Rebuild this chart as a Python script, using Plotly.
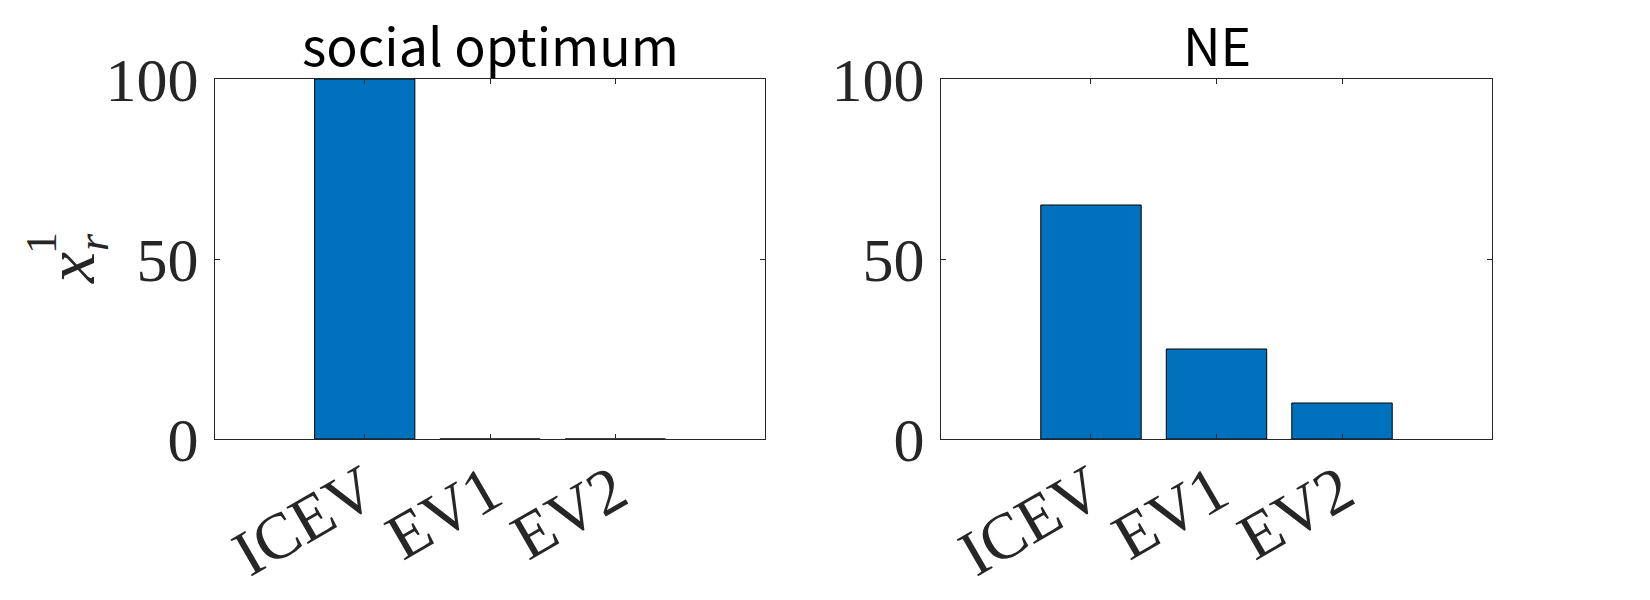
import plotly.graph_objects as go

# data
vehicles = ['ICEV', 'EV1', 'EV2']
social_opt = [100, 0, 0]
nash_eq = [65, 25, 10]
panel_titles = ['social optimum', 'NE']
y_ticks = [0, 50, 100]

bar_col = '#0072BD'
ax_col = '#262626'
serif = 'Liberation Serif'
sans = 'Noto Sans CJK JP'

# page body has an 8px margin, so the figure is a bit smaller than the window
W, H, off = 1642, 592, 8
px = lambda p: (p - off) / W
py = lambda p: 1 - (p - off) / H

fig = go.Figure()
fig.add_trace(go.Bar(x=vehicles, y=social_opt, xaxis='x', yaxis='y',
                     marker=dict(color=bar_col, line=dict(color='black', width=1))))
fig.add_trace(go.Bar(x=vehicles, y=nash_eq, xaxis='x2', yaxis='y2',
                     marker=dict(color=bar_col, line=dict(color='black', width=1))))

xax = dict(type='category', categoryorder='array', categoryarray=vehicles,
           range=[-1.195, 3.195], showline=True, linecolor=ax_col, linewidth=1,
           mirror='ticks', ticks='inside', ticklen=5, tickcolor=ax_col,
           tickangle=-30, tickfont=dict(family=serif, size=65, color=ax_col),
           ticklabelstandoff=-12, showgrid=False, zeroline=False, automargin=False)
yax = dict(range=[0, 100], tickvals=y_ticks, showline=True, linecolor=ax_col,
           linewidth=1, mirror='ticks', ticks='inside', ticklen=5, tickcolor=ax_col,
           tickfont=dict(family=serif, size=62, color=ax_col),
           ticklabelstandoff=3, showgrid=False, zeroline=False, automargin=False)

fig.update_layout(
    template='none',
    width=W, height=H,
    margin=dict(l=0, r=0, t=0, b=0),
    paper_bgcolor='white', plot_bgcolor='white',
    showlegend=False, bargap=0.2,
    xaxis=dict(xax, domain=[px(215), px(765)], anchor='y'),
    yaxis=dict(yax, domain=[py(439), py(79)], anchor='x'),
    xaxis2=dict(xax, domain=[px(941), px(1492)], anchor='y2'),
    yaxis2=dict(yax, domain=[py(439), py(79)], anchor='x2'),
)

for i, t in enumerate(panel_titles):
    sfx = '' if i == 0 else str(i + 1)
    fig.add_annotation(text=t, x=0.5, y=1, xref=f'x{sfx} domain', yref=f'y{sfx} domain',
                       xanchor='center', yanchor='bottom', yshift=-3, borderpad=0,
                       showarrow=False, font=dict(family=sans, size=52, color='black'))

# y label x_r^1, pieces stacked by hand
fig.add_annotation(text='<i>x</i>', textangle=-90, x=px(70), y=py(268),
                   xref='paper', yref='paper', xanchor='center', yanchor='middle',
                   showarrow=False, font=dict(family=serif, size=70, color=ax_col))
fig.add_annotation(text='1', textangle=-90, x=px(42), y=py(243),
                   xref='paper', yref='paper', xanchor='center', yanchor='middle',
                   showarrow=False, font=dict(family=serif, size=44, color=ax_col))
fig.add_annotation(text='<i>r</i>', textangle=-90, x=px(93), y=py(242),
                   xref='paper', yref='paper', xanchor='center', yanchor='middle',
                   showarrow=False, font=dict(family=serif, size=44, color=ax_col))

fig.write_html('out.html')
